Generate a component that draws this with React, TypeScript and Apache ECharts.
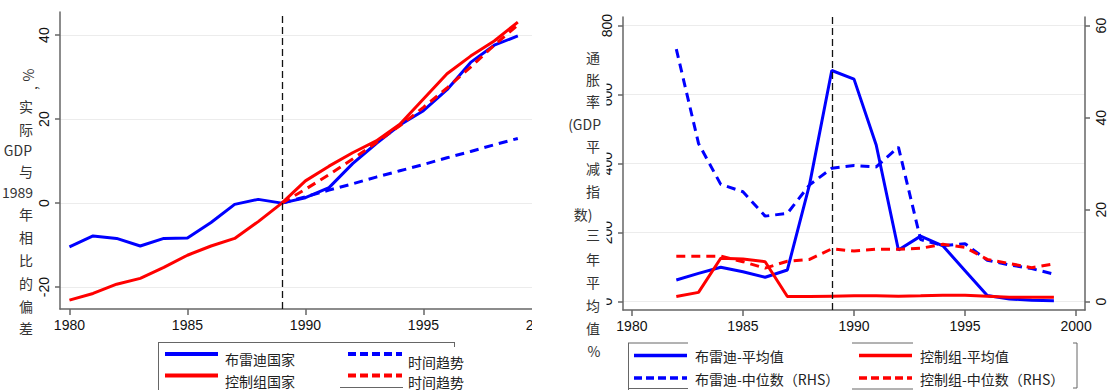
import React, { useEffect, useRef } from "react";
import * as echarts from "echarts";

// ---- Left panel: real GDP deviation from 1989 (%) ----
const gdpYears = [1980, 1981, 1982, 1983, 1984, 1985, 1986, 1987, 1988, 1989, 1990, 1991, 1992, 1993, 1994, 1995, 1996, 1997, 1998, 1999];
const bradyGdp = [-10.4, -7.8, -8.4, -10.2, -8.4, -8.3, -4.6, -0.3, 0.9, 0, 1.3, 3.7, 9.4, 14.2, 18.6, 22.0, 27.0, 33.5, 37.6, 39.8];
const controlGdp = [-23.1, -21.5, -19.3, -17.9, -15.3, -12.4, -10.2, -8.4, -4.4, 0, 5.3, 8.8, 12.0, 14.8, 18.8, 24.8, 30.8, 35.0, 38.6, 43.1];
const trendYears = [1989, 1990, 1991, 1992, 1993, 1994, 1995, 1996, 1997, 1998, 1999];
const bradyTrend = [0, 1.5, 3.1, 4.6, 6.2, 7.7, 9.2, 10.8, 12.3, 13.9, 15.4];
const controlTrend = [0, 3.3, 6.8, 10.5, 14.4, 18.4, 22.8, 27.4, 32.4, 37.6, 42.4];

// ---- Right panel: inflation (GDP deflator), 3-year averages ----
const inflYears = [1982, 1983, 1984, 1985, 1986, 1987, 1988, 1989, 1990, 1991, 1992, 1993, 1994, 1995, 1996, 1997, 1998, 1999];
const bradyMean = [63, 82, 100, 87, 71, 92, 340, 670, 645, 454, 150, 190, 162, 90, 18, 8, 4, 3];
const controlMean = [15, 27, 126, 124, 116, 15, 15, 16, 17, 17, 16, 17, 19, 19, 16, 13, 13, 13];
const bradyMedian = [54.9, 34.4, 25.5, 23.9, 18.6, 19.2, 25.4, 29.0, 29.6, 29.3, 33.6, 13.5, 12.2, 12.6, 9.0, 8.0, 7.2, 6.0];
const controlMedian = [9.9, 9.9, 9.9, 8.7, 7.3, 8.8, 9.2, 11.5, 11.0, 11.4, 11.4, 11.6, 12.5, 11.8, 9.2, 8.3, 7.4, 8.2];

// ---- Axis ticks ----
const yearTicks = [1980, 1985, 1990, 1995, 2000];
const gdpTicks = [-20, 0, 20, 40];
const meanTicks = [0, 200, 400, 600, 800];
const medianTicks = [0, 20, 40, 60];
const breakYear = 1989;

const BLUE = "#0000ff";
const RED = "#ff0000";
const AXIS = "#666666";
const GRID = "#ececec";
const NUM_FONT = '"Liberation Sans", Arial, sans-serif';
const CJK_FONT = '"Noto Sans CJK SC", "Liberation Sans", sans-serif';

const pairs = (xs: number[], ys: number[]) => xs.map((x, i) => [x, ys[i]]);

// Split-line colours: the last entry hides a line at the very top of the axis
const gridColors = [GRID, GRID, GRID, GRID, GRID, "rgba(0,0,0,0)"];

function yearAxis() {
  return {
    type: "value",
    min: 1979.6,
    max: 2000.4,
    splitNumber: 4,
    axisLine: { show: true, onZero: false, lineStyle: { color: AXIS, width: 1.5 } },
    axisTick: { show: true, length: 6, customValues: yearTicks, lineStyle: { color: AXIS, width: 1.5 } },
    axisLabel: {
      customValues: yearTicks,
      margin: 9,
      fontSize: 14,
      color: "#111",
      fontFamily: NUM_FONT,
      formatter: (v: number) => String(v),
    },
    splitLine: { show: false },
  };
}

function valueAxis(min: number, max: number, splitNumber: number, ticks: number[], position: string, grid: boolean) {
  return {
    type: "value",
    position,
    min,
    max,
    splitNumber,
    axisLine: { show: true, onZero: false, lineStyle: { color: AXIS, width: 1.5 } },
    axisTick: { show: true, length: 5, customValues: ticks, lineStyle: { color: AXIS, width: 1.5 } },
    axisLabel: {
      customValues: ticks,
      rotate: 90,
      margin: 9,
      fontSize: 14,
      color: "#111",
      fontFamily: NUM_FONT,
      formatter: (v: number) => String(v),
    },
    splitLine: {
      show: grid,
      showMinLine: true,
      showMaxLine: true,
      lineStyle: { color: gridColors, width: 1 },
    },
  };
}

function lineSeries(name: string, data: number[][], color: string, dashed: boolean, yAxisIndex = 0) {
  return {
    type: "line",
    name,
    data,
    yAxisIndex,
    symbol: "none",
    showSymbol: false,
    lineStyle: { color, width: 3, type: dashed ? [9, 6] : "solid" },
    itemStyle: { color },
    emphasis: { disabled: true },
  };
}

const breakLine = {
  silent: true,
  symbol: ["none", "none"],
  label: { show: false },
  lineStyle: { color: "#111", width: 1.3, type: [7, 4] },
  data: [{ xAxis: breakYear }],
};

function txt(text: string, x: number, y: number, opts: any = {}) {
  return {
    type: "text",
    x,
    y,
    rotation: opts.rotation || 0,
    z: 101,
    style: {
      text,
      fill: opts.fill || "#333",
      fontSize: opts.fontSize || 14,
      fontFamily: opts.fontFamily || CJK_FONT,
      align: opts.align || "center",
      verticalAlign: "middle",
    },
  };
}

function seg(x1: number, y1: number, x2: number, y2: number, stroke: string, lineWidth: number, dash?: number[]) {
  return {
    type: "line",
    z: 101,
    shape: { x1, y1, x2, y2 },
    style: { stroke, lineWidth, lineDash: dash || null },
  };
}

function gdpOption() {
  const r90 = Math.PI / 2;
  const title = [
    txt("%", 28, 75, { rotation: r90 }),
    txt(",", 31, 88, { rotation: r90 }),
    txt("实", 26, 106),
    txt("际", 26, 129),
    txt("GDP", 32, 150, { align: "right" }),
    txt("与", 26, 171),
    txt("1989", 33, 192, { align: "right" }),
    txt("年", 26, 214),
    txt("相", 26, 237),
    txt("比", 26, 260),
    txt("的", 26, 283),
    txt("偏", 26, 306),
    txt("差", 26, 328),
  ];
  const legend = [
    seg(158, 342.5, 455, 342.5, AXIS, 1),
    seg(158.5, 342.5, 158.5, 390, AXIS, 1),
    seg(454.5, 342.5, 454.5, 347, AXIS, 1),
    seg(340, 387.5, 403, 387.5, AXIS, 1),
    seg(165, 354, 218, 354, BLUE, 4),
    seg(165, 375.5, 218, 375.5, RED, 4),
    seg(348, 354, 402, 354, BLUE, 4, [8, 4]),
    seg(348, 375.5, 402, 375.5, RED, 4, [8, 4]),
    txt("布雷迪国家", 225, 359, { align: "left", fill: "#222" }),
    txt("控制组国家", 225, 380.5, { align: "left", fill: "#222" }),
    txt("时间趋势", 408, 362, { align: "left", fill: "#222" }),
    txt("时间趋势", 408, 381.5, { align: "left", fill: "#222" }),
  ];
  return {
    animation: false,
    backgroundColor: "#fff",
    grid: { left: 60, right: 7, top: 12, bottom: 81, containLabel: false },
    xAxis: yearAxis(),
    yAxis: valueAxis(-25.2, 45.5, 3, gdpTicks, "left", true),
    series: [
      { ...lineSeries("布雷迪国家", pairs(gdpYears, bradyGdp), BLUE, false), markLine: breakLine },
      lineSeries("控制组国家", pairs(gdpYears, controlGdp), RED, false),
      lineSeries("时间趋势", pairs(trendYears, bradyTrend), BLUE, true),
      lineSeries("时间趋势", pairs(trendYears, controlTrend), RED, true),
    ],
    graphic: { elements: [...title, ...legend] },
  };
}

function inflationOption() {
  const ox = 556; // page x of this chart's left edge
  const cx = 593 - ox;
  const title = [
    txt("通", cx, 57),
    txt("胀", cx, 79),
    txt("率", cx, 101),
    txt("(GDP", 601 - ox, 124, { align: "right" }),
    txt("平", cx, 146),
    txt("减", cx, 168),
    txt("指", cx, 191),
    txt("数)", 583 - ox, 214),
    txt("三", cx, 234),
    txt("年", cx, 259),
    txt("平", cx, 282),
    txt("均", cx, 305),
    txt("值", cx, 328),
    txt("%", 594 - ox, 351),
  ];
  const mask = {
    type: "rect",
    z: 100,
    shape: { x: 0, y: 40, width: 606.5 - ox, height: 305 },
    style: { fill: "#fff" },
  };
  const L = (x: number) => x - ox;
  const legend = [
    seg(L(628.5), 343, L(628.5), 390, AXIS, 1),
    seg(L(628), 343, L(688), 343, AXIS, 1),
    seg(L(628), 388.5, L(688), 388.5, AXIS, 1),
    seg(L(852), 343, L(913), 343, AXIS, 1),
    seg(L(852), 389, L(913), 389, AXIS, 1),
    seg(L(1077), 343, L(1077), 388, AXIS, 1),
    seg(L(1073), 343, L(1077), 343, AXIS, 1),
    seg(L(1073), 388, L(1077), 388, AXIS, 1),
    seg(L(634), 355.5, L(687), 355.5, BLUE, 3.5),
    seg(L(634), 378, L(687), 378, BLUE, 3.5, [8, 4]),
    seg(L(859), 355.5, L(912), 355.5, RED, 3.5),
    seg(L(859), 378, L(912), 378, RED, 3.5, [8, 4]),
    txt("布雷迪-平均值", L(695), 356, { align: "left", fill: "#222" }),
    txt("布雷迪-中位数（RHS）", L(695), 378.5, { align: "left", fill: "#222" }),
    txt("控制组-平均值", L(920), 356, { align: "left", fill: "#222" }),
    txt("控制组-中位数（RHS）", L(920), 378.5, { align: "left", fill: "#222" }),
  ];
  return {
    animation: false,
    backgroundColor: "#fff",
    grid: { left: 67, right: 27, top: 17, bottom: 80, containLabel: false },
    xAxis: yearAxis(),
    yAxis: [
      valueAxis(-24, 825, 4, meanTicks, "left", true),
      valueAxis(-1.8, 61.875, 3, medianTicks, "right", false),
    ],
    series: [
      { ...lineSeries("布雷迪-平均值", pairs(inflYears, bradyMean), BLUE, false, 0), markLine: breakLine },
      lineSeries("控制组-平均值", pairs(inflYears, controlMean), RED, false, 0),
      lineSeries("布雷迪-中位数（RHS）", pairs(inflYears, bradyMedian), BLUE, true, 1),
      lineSeries("控制组-中位数（RHS）", pairs(inflYears, controlMedian), RED, true, 1),
    ],
    graphic: { elements: [mask, ...title, ...legend] },
  };
}

export default function App() {
  const leftRef = useRef<HTMLDivElement>(null);
  const rightRef = useRef<HTMLDivElement>(null);

  useEffect(() => {
    document.body.style.margin = "0";
    const left = echarts.init(leftRef.current!, undefined, { renderer: "svg" });
    left.setOption(gdpOption() as any);
    const right = echarts.init(rightRef.current!, undefined, { renderer: "svg" });
    right.setOption(inflationOption() as any);
    return () => {
      left.dispose();
      right.dispose();
    };
  }, []);

  return (
    <div style={{ position: "relative", width: 1112, height: 390, background: "#fff", overflow: "hidden" }}>
      <div style={{ position: "absolute", left: 0, top: 0, width: 532, height: 390, overflow: "hidden" }}>
        <div ref={leftRef} style={{ width: 560, height: 390 }} />
      </div>
      <div ref={rightRef} style={{ position: "absolute", left: 556, top: 0, width: 556, height: 390 }} />
    </div>
  );
}
